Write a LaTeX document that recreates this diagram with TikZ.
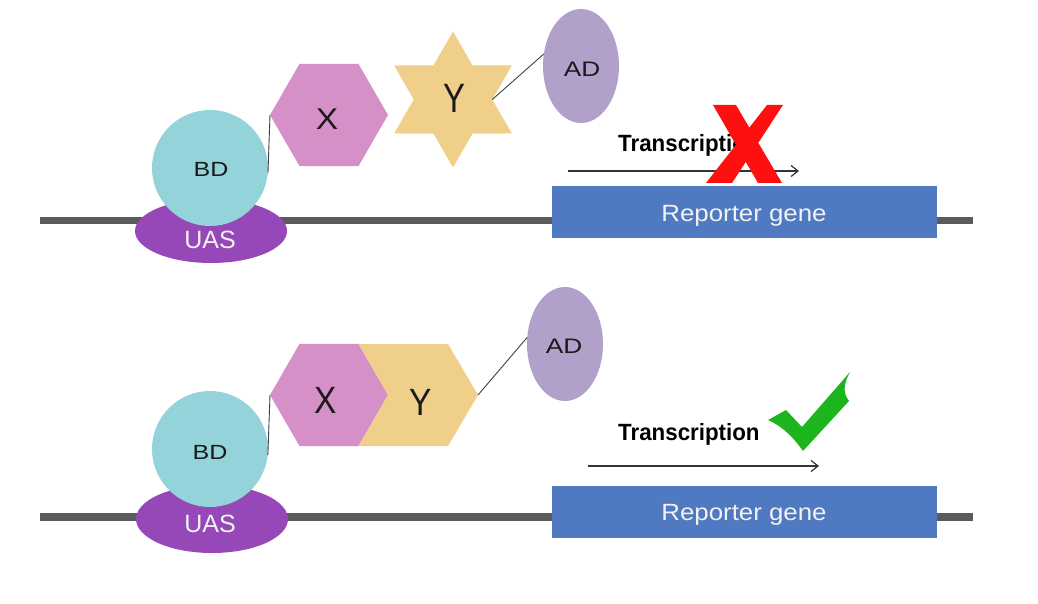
\documentclass[tikz,border=0pt]{standalone}
\usepackage{fontspec}
\usepackage{graphicx}
\setmainfont{Liberation Sans}
\usetikzlibrary{shapes.geometric,arrows.meta}
\definecolor{uascol}{HTML}{9748B8}
\definecolor{bdcol}{HTML}{93D3D9}
\definecolor{xcol}{HTML}{D690C8}
\definecolor{ycol}{HTML}{F0CF8A}
\definecolor{adcol}{HTML}{B1A0CA}
\definecolor{repcol}{HTML}{4F7AC1}
\definecolor{dnacol}{HTML}{5B5B5B}
\definecolor{okcol}{HTML}{1DB51D}
\definecolor{nocol}{HTML}{FF1010}
\definecolor{txtcol}{HTML}{1A1A1A}
\newcommand\wscale[2]{\scalebox{#1}[1]{#2}}
\tikzset{
  dna/.style={draw=dnacol,line width=7pt},
  uas/.style={ellipse,fill=uascol,minimum width=152pt,minimum height=64pt,inner sep=0pt},
  bd/.style={circle,fill=bdcol,minimum size=116pt,inner sep=0pt},
  hexx/.style={regular polygon,regular polygon sides=6,fill=xcol,minimum size=118pt,inner sep=0pt,outer sep=0pt},
  stary/.style={star,star points=6,star point ratio=1.732,fill=ycol,minimum size=136pt,inner sep=0pt,outer sep=0pt},
  ad/.style={ellipse,fill=adcol,minimum width=76pt,minimum height=114pt,inner sep=0pt,outer sep=0pt},
  rep/.style={rectangle,fill=repcol,minimum width=385pt,minimum height=52pt,inner sep=0pt},
  conn/.style={draw=black!75,line width=0.9pt},
  arr/.style={draw=black!80,line width=1.2pt,-{Straight Barb[length=7pt,width=11pt,line width=1.2pt]}},
  lbl/.style={inner sep=0pt,anchor=base,text=txtcol},
  wlbl/.style={inner sep=0pt,anchor=base,text=white!95!black},
  tlbl/.style={inner sep=0pt,anchor=base west,text=black,font=\bfseries\fontsize{23.5}{24}\selectfont},
}
\begin{document}
\begin{tikzpicture}[x=1pt,y=1pt]
\useasboundingbox (0,0) rectangle (1038,-604);
% ---------------- top panel ----------------
\coordinate (d1l) at (40,-220);
\coordinate (d1r) at (973,-220);
\draw[dna] (d1l) -- (d1r);
\node[uas] (uas1) at (211,-231) {};
\node[wlbl,font=\fontsize{25}{25}\selectfont] (uast1) at (210,-248) {UAS};
\node[bd] (bd1) at (210,-168) {};
\node[lbl,font=\fontsize{20.5}{21}\selectfont] (bdt1) at (211,-177) {\wscale{1.22}{BD}};
\node[hexx] (x1) at (329,-115) {};
\node[lbl,font=\fontsize{30}{30}\selectfont] (xt1) at (327,-130) {\wscale{1.12}{X}};
\node[stary] (y1) at (453,-99.5) {};
\node[lbl,font=\fontsize{41}{41}\selectfont] (yt1) at (454,-113) {\wscale{0.8}{Y}};
\node[ad] (ad1) at (581,-66) {};
\node[lbl,font=\fontsize{21}{21}\selectfont] (adt1) at (582,-77) {\wscale{1.25}{AD}};
\draw[conn] (bd1.-5) -- (x1.west);
\draw[conn] (y1.east) -- (ad1.162);
\node[rep] (rep1) at (744.5,-212) {};
\node[wlbl,font=\fontsize{23.5}{24}\selectfont] (rept1) at (744,-222) {\wscale{1.1}{Reporter gene}};
\node[tlbl] (tr1) at (618,-152) {\wscale{0.95}{Transcription}};
\coordinate (a1s) at (568,-171);
\coordinate (a1e) at (799,-171);
\draw[arr] (a1s) -- (a1e);
\fill[nocol] (713,-105) -- (736,-105) -- (782,-183) -- (758,-183) -- cycle;
\fill[nocol] (767,-105) -- (783,-105) -- (732,-183) -- (706,-183) -- cycle;
% ---------------- bottom panel ----------------
\coordinate (d2l) at (40,-517);
\coordinate (d2r) at (973,-517);
\draw[dna,line width=7.5pt] (d2l) -- (d2r);
\node[uas,minimum height=68pt] (uas2) at (212,-519) {};
\node[wlbl,font=\fontsize{25}{25}\selectfont] (uast2) at (210,-532) {UAS};
\node[bd] (bd2) at (210,-449) {};
\node[lbl,font=\fontsize{20.5}{21}\selectfont] (bdt2) at (210,-459) {\wscale{1.22}{BD}};
\node[hexx] (x2) at (329,-395) {};
\fill[ycol] (358.5,-344) -- (448,-344) -- (478,-395) -- (448,-446) -- (358.5,-446) -- (388,-395) -- cycle;
\coordinate (y2e) at (478,-395);
\node[lbl,font=\fontsize{38}{38}\selectfont] (xt2) at (326,-413) {\wscale{0.88}{X}};
\node[lbl,font=\fontsize{38}{38}\selectfont] (yt2) at (421,-415) {\wscale{0.88}{Y}};
\node[ad] (ad2) at (565,-344) {};
\node[lbl,font=\fontsize{21}{21}\selectfont] (adt2) at (564,-353) {\wscale{1.25}{AD}};
\draw[conn] (bd2.-6) -- (x2.west);
\draw[conn] (y2e) -- (ad2.170);
\node[rep] (rep2) at (744.5,-512) {};
\node[wlbl,font=\fontsize{23.5}{24}\selectfont] (rept2) at (744,-520) {\wscale{1.1}{Reporter gene}};
\node[tlbl] (tr2) at (618,-440) {\wscale{0.95}{Transcription}};
\coordinate (a2s) at (588,-466);
\coordinate (a2e) at (819,-466);
\draw[arr] (a2s) -- (a2e);
\fill[okcol] (768,-420) -- (786,-410) -- (802,-427) -- (850,-372)
  .. controls (843,-385) and (843,-393) .. (849,-401) -- (803,-451)
  .. controls (793,-437) and (782,-426) .. (768,-420) -- cycle;
\end{tikzpicture}
\end{document}
